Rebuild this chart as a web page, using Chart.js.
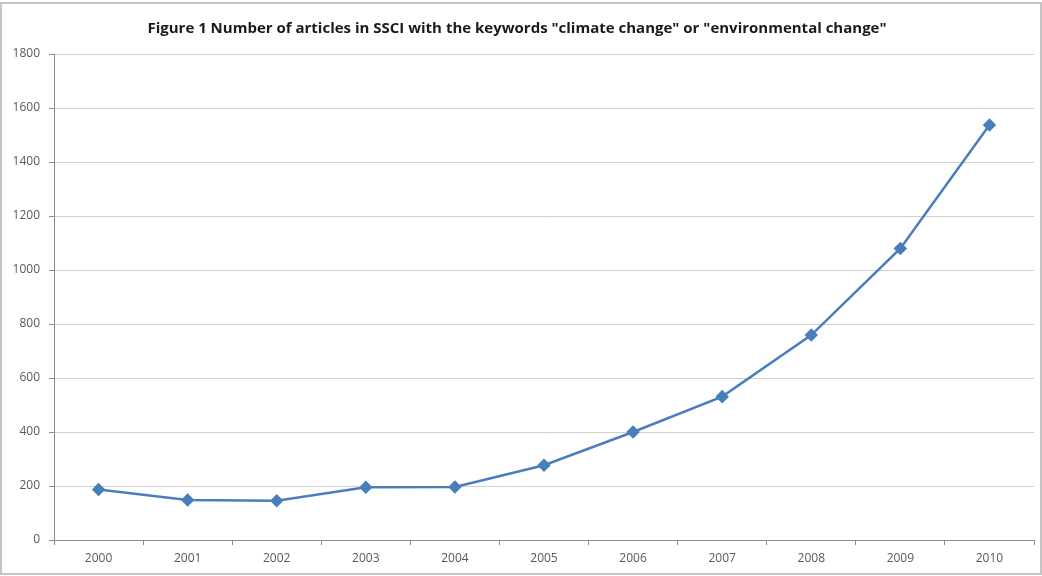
<!DOCTYPE html>
<html>
<head>
<meta charset="utf-8">
<script src="https://cdn.jsdelivr.net/npm/chart.js@4"></script>
<style>
  html, body { margin: 0; padding: 0; background: #fff; }
  #wrap { width: 1042px; height: 576px; position: relative; }
</style>
</head>
<body>
<div id="wrap"><canvas id="myChart"></canvas></div>
<script>
const years = ['2000', '2001', '2002', '2003', '2004', '2005', '2006', '2007', '2008', '2009', '2010'];
const articles = [187, 148, 145, 195, 196, 277, 400, 531, 759, 1080, 1537];
const yTicks = [0, 200, 400, 600, 800, 1000, 1200, 1400, 1600, 1800];

// grey frame round the whole chart, like the Excel chart area
const frame = {
    id: 'frame',
    afterDraw(chart) {
        const c = chart.ctx;
        c.save();
        c.strokeStyle = '#c4c4c4';
        c.lineWidth = 2;
        c.strokeRect(1, 3, chart.width - 2, chart.height - 5);
        c.restore();
    }
};

const ctx = document.getElementById('myChart');
const myChart = new Chart(ctx, {
    type: 'line',
    data: {
        labels: years,
        datasets: [{
            label: 'Articles',
            data: articles,
            borderColor: '#4a7ebb',
            backgroundColor: '#4a7ebb',
            borderWidth: 2.5,
            pointStyle: 'rectRot',
            pointRadius: 5,
            pointHoverRadius: 5,
            tension: 0,
            fill: false
        }]
    },
    options: {
        responsive: true,
        maintainAspectRatio: false,
        animation: false,
        layout: {
            padding: { left: 0, right: 8, top: 0, bottom: 0 }
        },
        scales: {
            x: {
                offset: true,
                border: { color: '#8c8c8c', width: 1 },
                grid: {
                    offset: true,
                    drawOnChartArea: false,
                    drawTicks: true,
                    tickLength: 5,
                    color: '#8c8c8c'
                },
                ticks: {
                    color: '#595959',
                    font: { family: 'Open Sans', size: 12 },
                    padding: 6,
                    maxRotation: 0
                },
                afterFit(scale) { scale.height = 36; }
            },
            y: {
                min: 0,
                max: 1800,
                afterBuildTicks(scale) {
                    scale.ticks = yTicks.map(v => ({ value: v }));
                },
                border: { color: '#8c8c8c', width: 1 },
                grid: {
                    color: '#cfcfcf',
                    tickLength: 5,
                    tickColor: '#8c8c8c'
                },
                ticks: {
                    color: '#595959',
                    font: { family: 'Open Sans', size: 12 },
                    padding: 9,
                    callback: v => String(v)
                },
                afterFit(scale) { scale.width = 54; }
            }
        },
        plugins: {
            legend: { display: false },
            tooltip: { enabled: false },
            title: {
                display: true,
                text: 'Figure 1 Number of articles in SSCI with the keywords "climate change" or "environmental change"',
                color: '#1a1a1a',
                font: { family: 'Open Sans', size: 15, weight: 'bold' },
                padding: { top: 20, bottom: 16 }
            }
        }
    },
    plugins: [frame]
});
</script>
</body>
</html>
